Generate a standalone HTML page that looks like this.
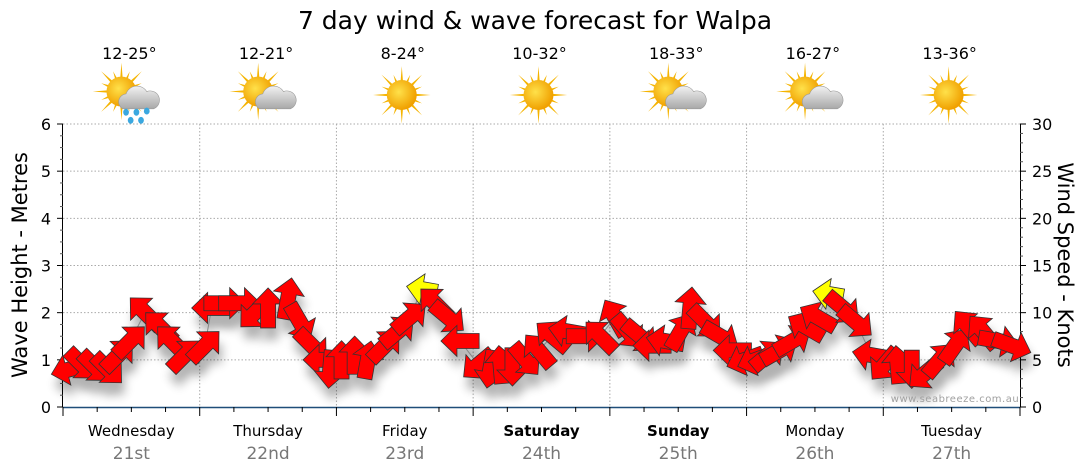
<!DOCTYPE html>
<html><head><meta charset="utf-8"><style>
html,body{margin:0;padding:0;background:#fff;}
svg{display:block;font-family:"DejaVu Sans","Liberation Sans",sans-serif;}
</style></head><body>
<svg id="chart" width="1080" height="475" viewBox="0 0 1080 475">
<defs>
<filter id="sh" x="-50%" y="-50%" width="200%" height="200%"><feGaussianBlur stdDeviation="5"/></filter>
<radialGradient id="sunG" cx="0.4" cy="0.4" r="0.6"><stop offset="0" stop-color="#ffe14a"/><stop offset="1" stop-color="#f0a000"/></radialGradient>
<linearGradient id="cloudG" x1="0" y1="0" x2="0" y2="1"><stop offset="0" stop-color="#f2f2f2"/><stop offset="1" stop-color="#a8a8a8"/></linearGradient>
</defs>
<text x="535" y="29" text-anchor="middle" font-size="25" fill="#000">7 day wind &amp; wave forecast for Walpa</text>
<g id="grid"></g>
<g id="axes"></g>
<g id="icons"></g>
<g id="shadows" opacity="0.3"></g>
<g id="marks"></g>
<text x="955" y="402" text-anchor="middle" font-size="10" fill="#a0a0a0" letter-spacing="0.5">www.seabreeze.com.au</text>
<text transform="translate(27,265) rotate(-90)" text-anchor="middle" font-size="21" fill="#000">Wave Height - Metres</text>
<text transform="translate(1058,265) rotate(90)" text-anchor="middle" font-size="21" fill="#000">Wind Speed - Knots</text>
</svg>
<script>
// ---- data ----
const days = ["Wednesday","Thursday","Friday","Saturday","Sunday","Monday","Tuesday"];
const dates = ["21st","22nd","23rd","24th","25th","26th","27th"];
const boldDays = [false,false,false,true,true,false,false];
const temps = ["12-25°","12-21°","8-24°","10-32°","18-33°","16-27°","13-36°"];
const weather = ["rain","cloud","sun","sun","cloud","cloud","sun"];
const waveTicks = [0,1,2,3,4,5,6];
const windTicks = [0,5,10,15,20,25,30];
// forecast hours from start (Wed 00:00)
const hours = [1.2,3.3,5.6,7.9,9.7,11.8,14.4,17,19.1,21.4,24.9,26.1,28.4,31,33.7,36,39.5,41.6,43.7,45.5,46.9,48.9,51.2,53.5,56.5,58.8,60.9,63,65.3,67.6,69.7,72.9,75,76.8,78.9,81.2,83.5,85.9,88.7,91.7,94.3,96.9,99.2,101.3,103.4,105.7,108.4,110.1,112.8,115.4,117.5,119.7,121.6,123.7,125.8,128.1,130.4,132.5,134.3,136.9,139.2,141.9,144.2,146.5,149,151.2,153.9,156.6,158.9,161.5,164.2,166.6];
const waveHeight = [0.8,0.9,0.85,0.8,1.1,1.4,2.0,1.7,1.4,1.1,1.3,2.1,2.2,2.2,2.0,2.1,2.3,1.8,1.3,1.0,0.8,1.0,1.1,1.0,1.3,1.6,1.9,2.5,2.2,1.9,1.4,0.9,0.8,0.9,0.85,1.0,1.2,1.5,1.6,1.5,1.5,1.9,1.6,1.5,1.3,1.4,1.6,2.1,1.8,1.5,1.2,1.0,1.0,1.1,1.2,1.4,1.7,1.9,2.4,2.1,1.8,1.1,0.9,0.9,0.8,0.7,1.0,1.3,1.7,1.6,1.4,1.3];
// direction arrow points toward (screen degrees, 0=right, 90=down)
const windDir = [165,45,45,45,315,315,225,225,225,315,315,180,0,0,135,270,280,60,45,180,95,270,270,280,315,320,320,190,225,40,180,140,100,265,90,50,230,220,190,0,225,240,50,40,180,190,300,275,45,30,180,160,160,320,330,330,210,210,190,40,40,190,130,265,90,140,310,305,230,230,10,20];
const windSpeed = [9,9,9,9,10,10,11,10,10,10,10,10,11,11,10,10,11,10,10,9,9,9,9,9,10,10,10,5,10,10,9,9,9,9,9,9,10,10,10,9,10,10,10,10,9,9,10,11,10,10,9,9,9,9,10,10,10,10,5,10,10,9,9,9,9,9,10,10,10,10,10,10];

// ---- scales ----
const X0=63, X1=1020, Y0=407, Y1=124;
const dayW=(X1-X0)/7;
const xH = h => X0 + h/24*dayW;
const yW = m => Y0 - m/6*(Y0-Y1);
const yK = k => Y0 - k/30*(Y0-Y1);
const NS="http://www.w3.org/2000/svg";
function mk(tag, attrs, parent){const e=document.createElementNS(NS,tag);for(const k in attrs)e.setAttribute(k,attrs[k]);parent.appendChild(e);return e;}
const grid=document.getElementById('grid'), axes=document.getElementById('axes'), icons=document.getElementById('icons'), marks=document.getElementById('marks'), shadows=document.getElementById('shadows');

// gridlines
waveTicks.forEach(t=>{ if(t>0){const l=mk('line',{x1:X0,x2:X1,y1:yW(t),y2:yW(t),stroke:'#aaa','stroke-dasharray':'1.5,2','stroke-width':1},grid);

}});
for(let d=1;d<7;d++){const l=mk('line',{x1:X0+d*dayW,x2:X0+d*dayW,y1:Y1,y2:Y0,stroke:'#aaa','stroke-dasharray':'1.5,2','stroke-width':1},grid);

}

// left axis
mk('line',{x1:X0-0.5,x2:X0-0.5,y1:Y1,y2:Y0,stroke:'#000'},axes);
for(let m=0;m<=6.001;m+=0.25){const maj=Math.abs(m-Math.round(m))<1e-6;mk('line',{x1:X0-(maj?6:3),x2:X0,y1:yW(m),y2:yW(m),stroke:maj?'#000':'#555'},axes);}
waveTicks.forEach(t=>{const e=mk('text',{x:X0-12,y:yW(t)+6,'text-anchor':'end','font-size':16},axes);e.textContent=t;

});
// right axis
mk('line',{x1:X1+0.5,x2:X1+0.5,y1:Y1,y2:Y0,stroke:'#000'},axes);
for(let k=0;k<=30;k++){const maj=k%5===0;mk('line',{x1:X1,x2:X1+(maj?6:3),y1:yK(k),y2:yK(k),stroke:maj?'#000':'#555'},axes);}
windTicks.forEach(t=>{const e=mk('text',{x:X1+12,y:yK(t)+6,'text-anchor':'start','font-size':16},axes);e.textContent=t;

});
// bottom axis
mk('line',{x1:X0,x2:X1,y1:Y0+0.5,y2:Y0+0.5,stroke:'#1f4e79','stroke-width':1.5},axes);
for(let h=0;h<=168;h+=6){const maj=h%24===0;mk('line',{x1:xH(h),x2:xH(h),y1:Y0,y2:Y0+(maj?9:5),stroke:'#000'},axes);}
days.forEach((d,i)=>{const cx=X0+(i+0.5)*dayW;
const t=mk('text',{x:cx,y:436,'text-anchor':'middle','font-size':15,'font-weight':boldDays[i]?'bold':'normal'},axes);t.textContent=d;


const t2=mk('text',{x:cx,y:459,'text-anchor':'middle','font-size':17,fill:'#777'},axes);t2.textContent=dates[i];


const t3=mk('text',{x:cx-2,y:59,'text-anchor':'middle','font-size':16},icons);t3.textContent=temps[i];


// weather icon
const g=mk('g',{transform:`translate(${cx-3},95) scale(1.15)`},icons);


const w=weather[i];
const sx=w==='sun'?0:-6, sy=w==='sun'?0:-3;
for(let a=0;a<16;a++){const ang=a*Math.PI/8;const L=a%2?19:25;
mk('polygon',{points:`${sx+Math.cos(ang-0.12)*10},${sy+Math.sin(ang-0.12)*10} ${sx+Math.cos(ang)*L},${sy+Math.sin(ang)*L} ${sx+Math.cos(ang+0.12)*10},${sy+Math.sin(ang+0.12)*10}`,fill:'#f5b400'},g);}
mk('circle',{cx:sx,cy:sy,r:13,fill:'url(#sunG)'},g);
if(w!=='sun'){
 mk('path',{d:'M-5,12 a7,7 0 0 1 3,-13 a10,10 0 0 1 18,-2 a7,7 0 0 1 6,15 z',fill:'url(#cloudG)',stroke:'#999','stroke-width':0.5},g);
}
if(w==='rain'){[[-2,15],[7,15],[16,14],[2,22],[11,22]].forEach(p=>mk('ellipse',{cx:p[0],cy:p[1],rx:2.5,ry:3,fill:'#3aa8e0'},g));}
});

// gray connecting line
let pts=hours.map((h,i)=>xH(h)+','+yW(waveHeight[i])).join(' ');
const pl=mk('polyline',{points:pts,fill:'none',stroke:'#888','stroke-width':1},marks);



// arrows
hours.forEach((h,i)=>{
 const x=xH(h), y=yW(waveHeight[i]); const L=22+windSpeed[i]*1.8; const hl=16, sw=7.5, hw=15.5;
 const p=`${-L/2},${-sw} ${L/2-hl},${-sw} ${L/2-hl},${-hw} ${L/2},0 ${L/2-hl},${hw} ${L/2-hl},${sw} ${-L/2},${sw}`;
 mk('polygon',{points:p,fill:'#000',filter:'url(#sh)',transform:`translate(${x+3},${y+12}) rotate(${windDir[i]})`},shadows);
 const a=mk('polygon',{points:p,fill:windSpeed[i]<6?'#ffff00':'#ff0000',stroke:'#333','stroke-width':0.8,transform:`translate(${x},${y}) rotate(${windDir[i]})`},marks);
 
 
});
</script>
</body></html>
